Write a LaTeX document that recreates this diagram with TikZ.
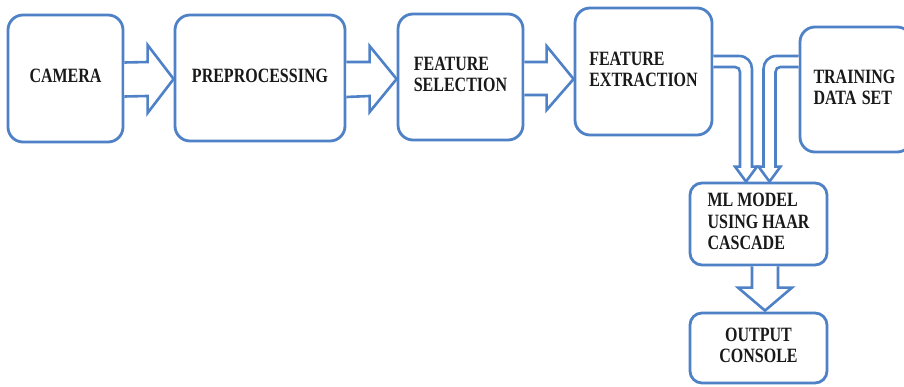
\documentclass[tikz,border=0pt]{standalone}
\usepackage{fontspec}
\setmainfont{Liberation Serif}
\usepackage{graphicx}
\usetikzlibrary{calc}
\definecolor{boxblue}{RGB}{79,129,199}
\newcommand{\bt}[1]{\scalebox{1}[1.27]{\begin{tabular}{@{}l@{}}#1\end{tabular}}}
\newcommand{\btc}[1]{\scalebox{1}[1.27]{\begin{tabular}{@{}c@{}}#1\end{tabular}}}
\begin{document}
\begin{tikzpicture}[x=1pt,y=-1pt,
  stage/.style={draw=boxblue, line width=2.8pt, rounded corners=15pt, fill=white,
    inner sep=0pt, font=\bfseries\fontsize{16}{16.8}\selectfont, text=black!90},
  blockarrow/.style={draw=boxblue, line width=2.6pt, line join=miter, fill=white}]
\path[use as bounding box, clip] (0,0) rectangle (904,387);
\fill[white] (0,0) rectangle (904,387);
% boxes
\node[stage, minimum width=115pt, minimum height=127pt] (cam) at (65.5,78.5) {\bt{CAMERA}};
\node[stage, minimum width=170pt, minimum height=126pt] (pre) at (260,78) {\bt{PREPROCESSING}};
\node[stage, minimum width=125pt, minimum height=126pt] (fs) at (460.5,77) {\bt{FEATURE\\SELECTION}};
\node[stage, minimum width=137pt, minimum height=127pt] (fe) at (643.5,71.5) {\bt{FEATURE\\EXTRACTION}};
\node[stage, minimum width=112pt, minimum height=125pt, text width=85pt, align=left] (tr) at (856,89.5) {\bt{TRAINING\\DATA SET}};
\node[stage, rounded corners=12pt, minimum width=137pt, minimum height=82pt] (ml) at (758.5,224) {\bt{ML MODEL\\USING HAAR\\CASCADE}};
\node[stage, rounded corners=12pt, minimum width=137pt, minimum height=70pt] (out) at (758.5,348) {\btc{OUTPUT\\CONSOLE}};
% straight block arrows
\draw[blockarrow] ($(cam.east)+(0,-16)$) -- ($(pre.west)+(-26,-16)$) -- ($(pre.west)+(-26,-33)$)
  -- ($(pre.west)+(0,1)$) -- ($(pre.west)+(-26,35)$) -- ($(pre.west)+(-26,18)$) -- ($(cam.east)+(0,18)$);
\draw[blockarrow] ($(pre.east)+(0,-16)$) -- ($(fs.west)+(-27,-15)$) -- ($(fs.west)+(-27,-31)$)
  -- ($(fs.west)+(0,2)$) -- ($(fs.west)+(-27,35)$) -- ($(fs.west)+(-27,19)$) -- ($(pre.east)+(0,19)$);
\draw[blockarrow] ($(fs.east)+(0,-15)$) -- ($(fe.west |- fs.east)+(-27,-15)$) -- ($(fe.west |- fs.east)+(-27,-31)$)
  -- ($(fe.west |- fs.east)+(0,2)$) -- ($(fe.west |- fs.east)+(-27,33)$) -- ($(fe.west |- fs.east)+(-27,18)$) -- ($(fs.east)+(0,18)$);
% bent arrow from feature extraction
\coordinate (t1) at ($(ml.north)+(-12.5,0)$);
\coordinate (xo1) at ($(t1)+(6,0)$);
\coordinate (xi1) at ($(t1)+(-6,0)$);
\coordinate (yt1) at ($(fe.east)+(0,-15.5)$);
\coordinate (yb1) at ($(fe.east)+(0,-4.5)$);
\draw[blockarrow] (yt1) -- ($(xo1|-yt1)+(-13,0)$)
  .. controls ($(xo1|-yt1)+(-5,0)$) and ($(xo1|-yt1)+(0,6)$) .. ($(xo1|-yt1)+(0,13)$)
  -- ($(xo1)+(0,-15)$) -- ($(t1)+(11,-15)$) -- (t1) -- ($(t1)+(-11,-15)$) -- ($(xi1)+(0,-15)$)
  -- ($(xi1|-yb1)+(0,5)$) .. controls ($(xi1|-yb1)+(0,2)$) and ($(xi1|-yb1)+(-2,0)$) .. ($(xi1|-yb1)+(-5,0)$)
  -- (yb1);
% bent arrow from training data set
\coordinate (t2) at ($(ml.north)+(11,0)$);
\coordinate (xo2) at ($(t2)+(-6,0)$);
\coordinate (xi2) at ($(t2)+(6,0)$);
\coordinate (yt2) at ($(tr.west)+(0,-33.5)$);
\coordinate (yb2) at ($(tr.west)+(0,-22.5)$);
\draw[blockarrow] (yt2) -- ($(xo2|-yt2)+(13,0)$)
  .. controls ($(xo2|-yt2)+(5,0)$) and ($(xo2|-yt2)+(0,6)$) .. ($(xo2|-yt2)+(0,13)$)
  -- ($(xo2)+(0,-15)$) -- ($(t2)+(-11,-15)$) -- (t2) -- ($(t2)+(11,-15)$) -- ($(xi2)+(0,-15)$)
  -- ($(xi2|-yb2)+(0,5)$) .. controls ($(xi2|-yb2)+(0,2)$) and ($(xi2|-yb2)+(2,0)$) .. ($(xi2|-yb2)+(5,0)$)
  -- (yb2);
% down arrow
\coordinate (t3) at ($(out.north)+(6.5,-1)$);
\draw[blockarrow] ($(ml.south)+(-6.5,0)$) -- ($(t3)+(-13,-23)$) -- ($(t3)+(-27,-23)$) -- (t3)
  -- ($(t3)+(27,-23)$) -- ($(t3)+(13,-23)$) -- ($(ml.south)+(19.5,0)$);
\end{tikzpicture}
\end{document}
